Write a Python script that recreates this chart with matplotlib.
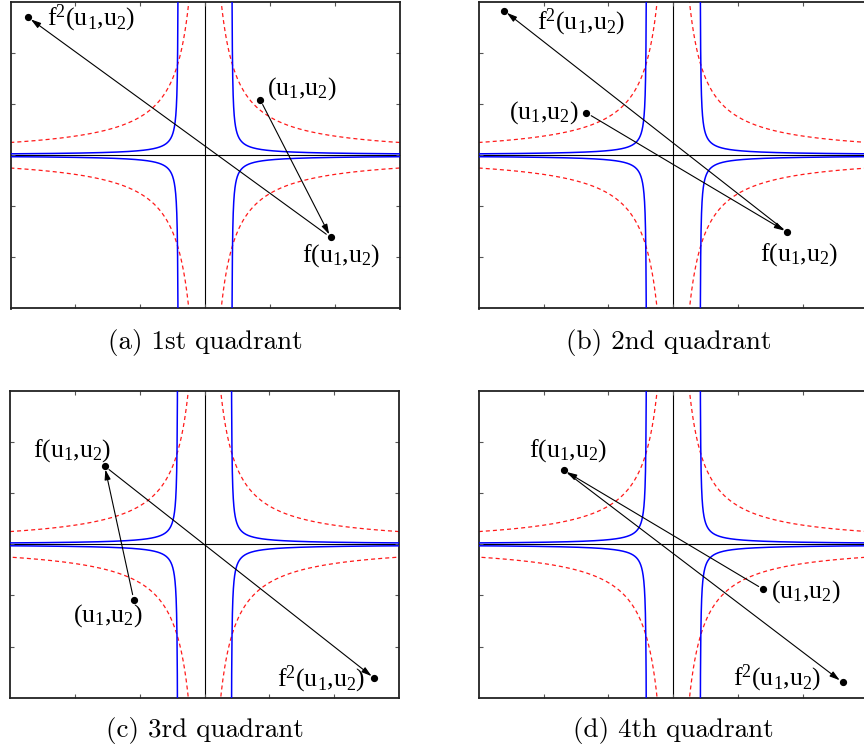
import numpy as np
import matplotlib
matplotlib.use('Agg')
import matplotlib.pyplot as plt

plt.rcParams['mathtext.fontset'] = 'custom'
plt.rcParams['mathtext.rm'] = 'Liberation Serif'
plt.rcParams['mathtext.it'] = 'Liberation Serif:italic'
plt.rcParams['lines.scale_dashes'] = False

# ---------------- data ----------------
captions = ['(a) 1st quadrant', '(b) 2nd quadrant', '(c) 3rd quadrant', '(d) 4th quadrant']
u_points = [(0.85, 1.09), (-1.34, 0.83), (-1.09, -1.09), (1.39, -0.88)]
f_points = [(1.94, -1.61), (1.76, -1.51), (-1.54, 1.53), (-1.69, 1.45)]
f2_points = [(-2.73, 2.70), (-2.61, 2.83), (2.62, -2.62), (2.61, -2.70)]
u_label = r'$\mathrm{(u_1{,}u_2)}$'
f_label = r'$\mathrm{f(u_1{,}u_2)}$'
f2_label = r'$\mathrm{f^2(u_1{,}u_2)}$'
red_level = 0.75          # |u1*u2| = 0.75 (dashed red)
blue_shift = 0.41         # vertical asymptote of blue curves
blue_coef = 0.060
blue_power = 0.8
axis_limit = 3
tick_values = [-2, -1, 0, 1, 2]

# ---------------- layout (pixels) ----------------
W, H = 864, 752
fig = plt.figure(figsize=(W / 100, H / 100), dpi=100)
rects_px = [(10.5, 2, 389, 306.5), (478.8, 2, 389, 306.5),
            (10, 391, 389, 306.7), (478.8, 391, 389, 306.7)]
caption_px = [(205, 342), (669, 342), (205, 731), (673, 731)]

# label placement: (offset points, ha)
u_off = [((5, 8), 'left'), ((-5.5, 0), 'right'), ((6.5, -11), 'right'), ((5.5, -1.7), 'left')]
f_off = [((-21, -13), 'left'), ((-20, -16), 'left'), ((4.8, 11), 'right'), ((3, 14), 'center')]
f2_off = [((14, -0.5), 'left'), ((24, -8.4), 'left'), ((-6.7, -1), 'right'), ((-15.5, 3), 'right')]

xr = np.geomspace(0.18, axis_limit + 0.2, 400)
d = np.geomspace(1e-3, axis_limit + 0.2, 600)
xb = blue_shift + d
yb = blue_coef / d ** blue_power

for i in range(4):
    l, t, w, h = rects_px[i]
    ax = fig.add_axes([l / W, 1 - (t + h) / H, w / W, h / H])
    ax.set_xlim(-axis_limit, axis_limit)
    ax.set_ylim(-axis_limit, axis_limit)
    ax.set_xticks(tick_values)
    ax.set_yticks(tick_values)
    ax.set_xticklabels([])
    ax.set_yticklabels([])
    ax.tick_params(direction='in', length=3, width=0.8, color='#555555',
                   top=True, right=True)
    for s in ax.spines.values():
        s.set_linewidth(1.3)
        s.set_color('#222222')

    ax.axhline(0, color='black', lw=0.8, zorder=1)
    ax.axvline(0, color='black', lw=0.8, zorder=1)

    for sx in (1, -1):
        for sy in (1, -1):
            ax.plot(sx * xr, sy * red_level / xr, color='#ff1a1a', lw=0.9,
                    ls=(0, (2.9, 2.2)), zorder=2)
            ax.plot(sx * xb, sy * yb, color='#0000ff', lw=1.1, zorder=3)

    u, f, f2 = u_points[i], f_points[i], f2_points[i]
    ap = dict(arrowstyle='-|>,head_length=0.6,head_width=0.18', color='black',
              lw=0.8, mutation_scale=10, shrinkA=4, shrinkB=2.5)
    ax.annotate('', xy=f, xytext=u, arrowprops=ap, zorder=4)
    ax.annotate('', xy=f2, xytext=f, arrowprops=ap, zorder=4)
    pts = np.array([u, f, f2])
    ax.plot(pts[:, 0], pts[:, 1], 'o', color='black', ms=4.2, zorder=5)

    for p, lab, (off, ha) in ((u, u_label, u_off[i]), (f, f_label, f_off[i]),
                              (f2, f2_label, f2_off[i])):
        ax.annotate(lab, xy=p, xytext=off, textcoords='offset points',
                    ha=ha, va='center', fontsize=18.5, color='black', zorder=6)

    cx, cy = caption_px[i]
    fig.text(cx / W, 1 - cy / H, captions[i], ha='center', va='center',
             family='cmr10', fontsize=19.5)

fig.savefig('out.png', dpi=100)
